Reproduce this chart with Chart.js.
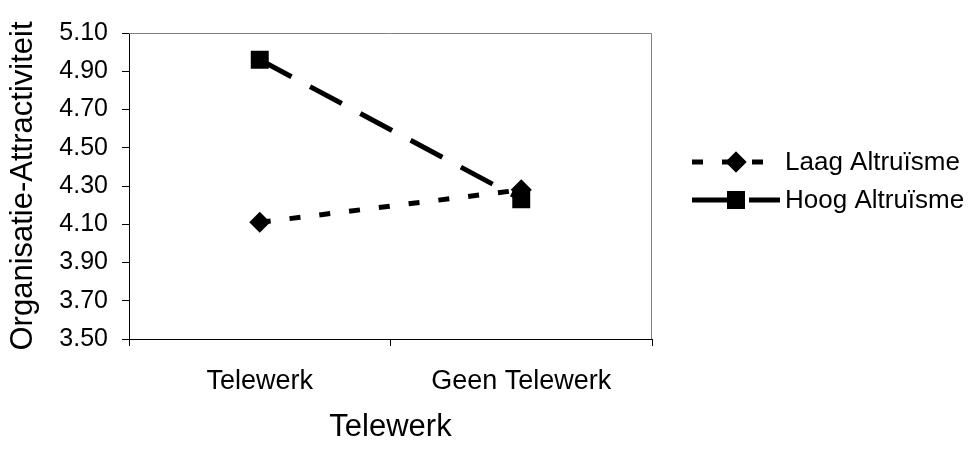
<!DOCTYPE html>
<html lang="nl">
<head>
    <meta charset="UTF-8">
    <title>Organisatie-Attractiviteit</title>
    <script src="https://cdn.jsdelivr.net/npm/chart.js"></script>
    <style>
        body {
            margin: 0;
            background: #fff;
        }

        .chart-container {
            width: 977px;
            height: 449px;
        }
    </style>
</head>
<body>
    <div class="chart-container">
        <canvas id="chart"></canvas>
    </div>

    <script>
        // Data
        const categories = ['Telewerk', 'Geen Telewerk'];
        const seriesNames = ['Laag Altruïsme', 'Hoog Altruïsme'];
        const laagValues = [4.11, 4.28];
        const hoogValues = [4.96, 4.23];
        const yTicks = [3.5, 3.7, 3.9, 4.1, 4.3, 4.5, 4.7, 4.9, 5.1];

        const FONT = 'Arial, "Liberation Sans", sans-serif';

        // Excel-style grey frame on top and right of the plot area
        const plotFrame = {
            id: 'plotFrame',
            beforeDatasetsDraw(chart) {
                const { ctx, chartArea } = chart;
                ctx.save();
                ctx.strokeStyle = '#808080';
                ctx.lineWidth = 1;
                ctx.beginPath();
                ctx.moveTo(chartArea.left, chartArea.top + 0.5);
                ctx.lineTo(chartArea.right - 0.5, chartArea.top + 0.5);
                ctx.lineTo(chartArea.right - 0.5, chartArea.bottom);
                ctx.stroke();
                ctx.restore();
            }
        };

        // Legend on the right, with line segment + marker like Excel
        const sideLegend = {
            id: 'sideLegend',
            afterDraw(chart) {
                const { ctx, chartArea } = chart;
                const x0 = chartArea.right + 40;
                const x1 = x0 + 88;
                const rows = [162, 200];
                ctx.save();
                chart.data.datasets.forEach((ds, i) => {
                    const y = rows[i];
                    ctx.strokeStyle = ds.borderColor;
                    ctx.lineWidth = ds.borderWidth;
                    ctx.setLineDash(ds.borderDash || []);
                    ctx.beginPath();
                    ctx.moveTo(x0, y);
                    ctx.lineTo(x1, y);
                    ctx.stroke();
                    ctx.setLineDash([]);
                    Chart.helpers.drawPoint(ctx, {
                        pointStyle: ds.pointStyle,
                        radius: ds.pointRadius,
                        borderWidth: 0
                    }, x0 + 44, y);
                    ctx.fillStyle = '#000';
                    ctx.fill();
                    ctx.font = '26px ' + FONT;
                    ctx.textBaseline = 'middle';
                    ctx.fillText(ds.label, x1 + 5, y + 1);
                });
                ctx.restore();
            }
        };

        const ctx = document.getElementById('chart').getContext('2d');
        new Chart(ctx, {
            type: 'line',
            data: {
                labels: categories,
                datasets: [
                    {
                        label: seriesNames[0],
                        data: laagValues,
                        borderColor: '#000',
                        backgroundColor: '#000',
                        borderWidth: 5,
                        borderDash: [11, 19],
                        pointStyle: 'rectRot',
                        pointRadius: 10.5,
                        pointBorderWidth: 0,
                        pointBackgroundColor: '#000',
                        fill: false
                    },
                    {
                        label: seriesNames[1],
                        data: hoogValues,
                        borderColor: '#000',
                        backgroundColor: '#000',
                        borderWidth: 5,
                        borderDash: [36, 21],
                        pointStyle: 'rect',
                        pointRadius: 12.7,
                        pointBorderWidth: 0,
                        pointBackgroundColor: '#000',
                        fill: false
                    }
                ]
            },
            options: {
                responsive: true,
                maintainAspectRatio: false,
                animation: false,
                events: [],
                layout: {
                    padding: { top: 33, right: 325, left: 0, bottom: 0 }
                },
                plugins: {
                    legend: { display: false },
                    tooltip: { enabled: false }
                },
                scales: {
                    x: {
                        offset: true,
                        grid: {
                            offset: true,
                            drawOnChartArea: false,
                            drawTicks: true,
                            tickLength: 7,
                            color: '#000'
                        },
                        border: { color: '#000', width: 1 },
                        ticks: {
                            color: '#000',
                            padding: 19,
                            font: { family: FONT, size: 27 },
                            maxRotation: 0
                        },
                        title: {
                            display: true,
                            text: 'Telewerk',
                            color: '#000',
                            font: { family: FONT, size: 31 },
                            padding: { top: 0, bottom: 3 }
                        },
                        afterFit(scale) {
                            scale.height = 110;
                        }
                    },
                    y: {
                        min: 3.5,
                        max: 5.1,
                        afterBuildTicks(scale) {
                            scale.ticks = yTicks.map(v => ({ value: v }));
                        },
                        grid: {
                            drawOnChartArea: false,
                            drawTicks: true,
                            tickLength: 7,
                            color: '#000'
                        },
                        border: { color: '#000', width: 1 },
                        ticks: {
                            color: '#000',
                            padding: 14,
                            font: { family: FONT, size: 25 },
                            callback: v => Number(v).toFixed(2)
                        },
                        title: {
                            display: true,
                            text: 'Organisatie-Attractiviteit',
                            color: '#000',
                            font: { family: FONT, size: 31 },
                            padding: { top: 5, bottom: 0 }
                        },
                        afterFit(scale) {
                            scale.width = 129;
                        }
                    }
                }
            },
            plugins: [plotFrame, sideLegend]
        });
    </script>
</body>
</html>
